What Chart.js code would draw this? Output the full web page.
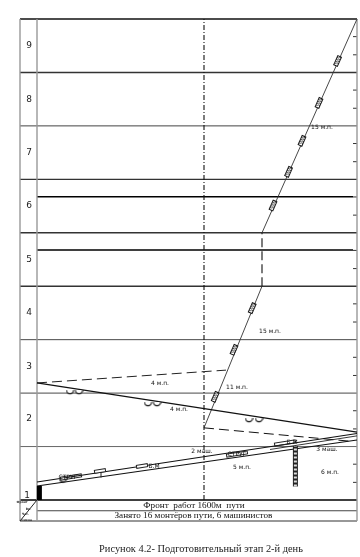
<!DOCTYPE html>
<html><head><meta charset="utf-8">
<style>html,body{margin:0;padding:0;background:#fff}canvas{display:block}</style>
<script src="https://cdn.jsdelivr.net/npm/chart.js@4"></script>
</head><body><canvas id="c" width="360" height="557"></canvas>
<script>
// Axes: metres of track front (x), working hours (y)
const rowNumbers = [
  ['1',-50,0.09],['2',-40,1.53],['3',-40,2.5],['4',-40,3.5],['5',-40,4.5],
  ['6',-40,5.5],['7',-40,6.5],['8',-40,7.5],['9',-40,8.5]];
const hourTicks = [0.33,0.67,1.33,1.67,2.33,2.67,3.33,3.67,4.33,4.67,5.33,5.67,6.33,6.67,7.33,7.67,8.33,8.67];
const boldHours = [4.678,5.675];
const frontLine = [[835,0],[835,9]];
const upperWork = [[1125,5],[1600,9]];
const lowerWork = [[835,1.35],[1125,4]];
const pauseWork = [[1125,4],[1125,5]];
const dashedTop = [[0,2.19],[945,2.43]];
const dashedLow = [[835,1.35],[1565,1.1]];
const descWork = [[0,2.19],[1600,1.27]];
const trackUpper = [[0,0.337],[1600,1.244]];
const trackLower = [[0,0.262],[1600,1.123]];
const trackExtra = [[1165,0.945],[1600,1.2]];
const blockBar = [[12,0],[12,0.262]];
const towerBar = [[1292,0.253],[1292,1.01]];
const stem = [[320,0.42],[320,0.54]];
const crews = [[1503,8.215],[1410,7.43],[1325,6.72],[1258,6.14],[1180,5.51],[1076,3.59],[985,2.81],[891,1.93]];
const cups = [[165,2.01],[210,2.01],[555,1.785],[600,1.785],[1060,1.486],[1110,1.486],[130,0.36]];
const machines = [[315,0.543],[525,0.636]];
const longMachines = [[1240,1.067],[170,0.43],[1000,0.86]];
const labels = [
  ['15 м.п.',1425,6.97],['15 м.п.',1165,3.15],['11 м.п.',1000,2.1],
  ['4 м.п.',615,2.19],['4 м.п.',710,1.69],['2 маш.',825,0.9],
  ['СТРУГ',155,0.43],['СТРУГ',1000,0.86],['Б.М',585,0.63],['Б.М',1275,1.07],
  ['5 м.п.',1025,0.6],['3 маш.',1450,0.95],['6 м.п.',1465,0.52]];
const tableTexts = [
  ['Фронт  работ 1600м  пути',785,-0.1],
  ['Занято 16 монтёров пути, 6 машинистов',782,-0.3]];
const cornerTexts = [['Фронт',-75,-0.05],['Вр.',-42,-0.17],['Час.',-58,-0.26],['Смена',-52,-0.37]];
const captionText = [['Рисунок 4.2- Подготовительный этап 2-й день',820,-0.917]];

const X_MIN=-85,X_MAX=1600,Y_MIN=-0.393,Y_MAX=9;

function glyph(w,h,draw){const g=document.createElement('canvas');g.width=w;g.height=h;draw(g.getContext('2d'));return g;}
const crewGlyph=glyph(5,11,c=>{c.fillStyle='#fff';c.fillRect(0,0,5,11);c.strokeStyle='#111';c.lineWidth=1;c.strokeRect(.5,.5,4,10);c.strokeStyle='#555';for(let i=2;i<10;i+=2){c.beginPath();c.moveTo(.5,i+1);c.lineTo(4.5,i-1);c.stroke();}});
const cupGlyph=glyph(9,7,c=>{c.strokeStyle='#111';c.lineWidth=1.1;c.fillStyle='#fff';c.beginPath();c.arc(4.5,1,3.6,0,Math.PI);c.fill();c.stroke();});
const machGlyph=glyph(12,4,c=>{c.strokeStyle='#222';c.lineWidth=1;c.fillStyle='#fff';c.fillRect(0,0,12,4);c.strokeRect(.5,.5,11,3);});
const longGlyph=glyph(22,4,c=>{c.strokeStyle='#222';c.lineWidth=1;c.strokeRect(.5,.5,21,3);});

const pts=a=>a.map(p=>({x:p[0],y:p[1]}));
const line=(a,color,w,dash)=>({data:pts(a),showLine:true,borderColor:color,borderWidth:w,borderDash:dash||[],pointRadius:0,tension:0,clip:false});
const marks=(a,g,rot)=>({data:pts(a),showLine:false,pointStyle:g,pointRadius:5,pointRotation:rot,clip:false});
const cross=(hs,x0,x1)=>{const r=[];hs.forEach(h=>{r.push({x:x0,y:h},{x:x1,y:h},{x:null,y:null});});return r;};
const crossSet=(hs,x0,x1,color,w)=>({data:cross(hs,x0,x1),showLine:true,spanGaps:false,borderColor:color,borderWidth:w,pointRadius:0,tension:0,clip:false});

const datasets=[
  crossSet([2,3],X_MIN,X_MAX,'#333',0.9),
  crossSet([1],X_MIN,X_MAX,'#666',1),
  crossSet([7],X_MIN,X_MAX,'#444',1),
  crossSet([4,5,6,8],X_MIN,X_MAX,'#333',1.4),
  crossSet([9],X_MIN,X_MAX,'#111',1.3),
  crossSet(boldHours,0,1580,'#000',1.5),
  crossSet(hourTicks,1580,1600,'#333',1),
  crossSet([0],X_MIN,X_MAX,'#000',1.5),
  crossSet([-0.2],0,X_MAX,'#444',1.1),
  crossSet([Y_MIN],X_MIN,X_MAX,'#333',1.1),
  line([[X_MIN,Y_MIN],[X_MIN,Y_MAX]],'#999',1.4),
  line([[0,Y_MIN],[0,Y_MAX]],'#999',1.4),
  line([[X_MAX,Y_MIN],[X_MAX,Y_MAX]],'#999',1.4),
  line([[X_MIN,Y_MIN],[0,0]],'#222',1),
  line(frontLine,'#111',1.1,[5,2,1,2]),
  line(upperWork,'#333',0.9),
  line(lowerWork,'#333',0.9),
  line(pauseWork,'#111',1.1,[9,4]),
  line(dashedTop,'#222',1,[10,5]),
  line(dashedLow,'#111',1,[10,5]),
  line(descWork,'#111',1.2),
  line(trackUpper,'#111',1.1),
  line(trackLower,'#111',1.1),
  line(trackExtra,'#222',0.9),
  line(blockBar,'#000',5),
  line(towerBar,'#222',5),
  line(towerBar,'#ddd',3,[2,2]),
  line(stem,'#222',1),
  marks(crews,crewGlyph,24),
  marks(cups,cupGlyph,0),
  marks(machines,machGlyph,-8.8),
  marks(longMachines,longGlyph,-8.8)
].reverse();

const textPlugin={id:'texts',afterDatasetsDraw(ch){
  const c=ch.ctx,sx=ch.scales.x,sy=ch.scales.y;
  const put=(arr,font,color)=>{c.font=font;c.fillStyle=color;c.textAlign='center';c.textBaseline='middle';
    arr.forEach(t=>c.fillText(t[0],sx.getPixelForValue(t[1]),sy.getPixelForValue(t[2])));};
  c.save();
  put(rowNumbers,'9px "DejaVu Sans"','#222');
  put(labels,'6px "DejaVu Sans"','#111');
  put(tableTexts,'9.2px "Liberation Serif"','#111');
  put(cornerTexts,'bold 3px "DejaVu Sans"','#333');
  put(captionText,'10.4px "Liberation Serif"','#222');
  c.restore();
}};

new Chart(document.getElementById('c'),{
  type:'scatter',
  data:{datasets},
  plugins:[textPlugin],
  options:{
    responsive:false,animation:false,
    layout:{autoPadding:false,padding:{left:20,right:3,top:19,bottom:36}},
    plugins:{legend:{display:false},tooltip:{enabled:false},title:{display:false}},
    scales:{
      x:{type:'linear',min:X_MIN,max:X_MAX,display:false},
      y:{type:'linear',min:Y_MIN,max:Y_MAX,display:false}
    }
  }
});
</script></body></html>
